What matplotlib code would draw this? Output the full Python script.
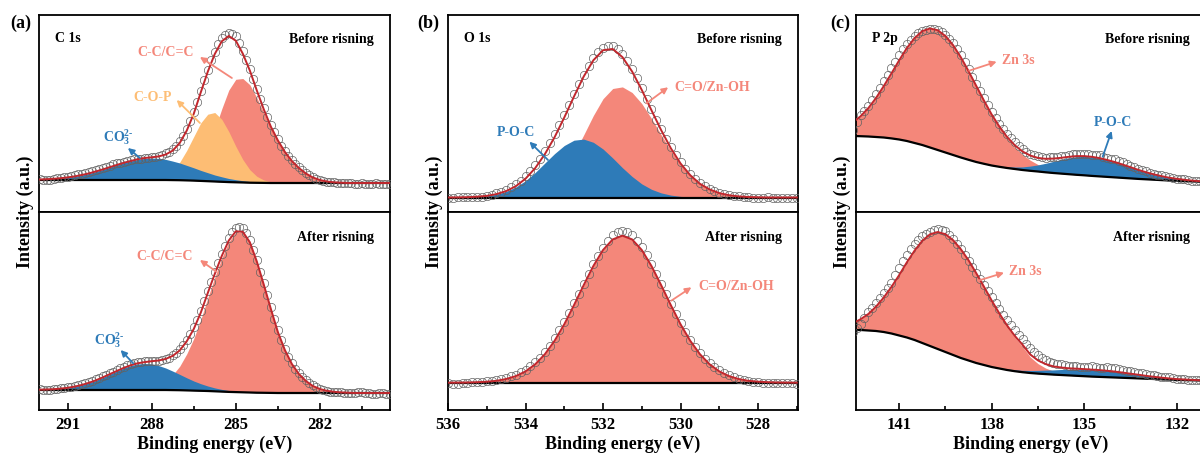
import numpy as np
import matplotlib

matplotlib.use("Agg")
import matplotlib.pyplot as plt

plt.rcParams["font.family"] = ["Liberation Serif", "DejaVu Serif"]
plt.rcParams["font.weight"] = "bold"
plt.rcParams["mathtext.fontset"] = "custom"
plt.rcParams["mathtext.rm"] = "Liberation Serif:bold"
plt.rcParams["mathtext.bf"] = "Liberation Serif:bold"
plt.rcParams["mathtext.default"] = "rm"

# ---- data (intensity in arbitrary units, energy grids in eV) ----
# fitted components sampled every 0.25 eV, measured points every 0.125 eV
E_A = np.arange(292.0, 279.49, -0.25)
E_B = np.arange(536.0, 526.99, -0.25)
E_C = np.arange(142.5, 130.99, -0.25)
E_A_RAW = np.arange(292.0, 279.49, -0.125)
E_B_RAW = np.arange(536.0, 526.99, -0.125)
E_C_RAW = np.arange(142.5, 130.99, -0.125)

# (a) C 1s, before rinsing
bg_a1 = [32, 32, 32, 32, 32, 32, 32, 32, 32, 32, 32, 32, 32, 32, 32, 32, 32, 32, 32,
         31.9, 31.8, 31.6, 31.4, 31.1, 30.8, 30.5, 30.2, 29.9, 29.7, 29.5, 29.3, 29.2, 29.1,
         29, 29, 29, 29, 29, 29, 29, 29, 29, 29, 29, 29, 29, 29, 29, 29, 29, 29]
co3_a1 = [0.5, 0.8, 1.2, 1.8, 2.6, 3.6, 5, 6.5, 8.5, 10.5, 12.8, 15, 17.2, 19, 20.6, 21.6, 22,
          21.6, 20.6, 19, 17.2, 15, 12.8, 10.5, 8.5, 6.5, 5, 3.6, 2.6, 1.8, 1.2, 0.8, 0.5, 0.3, 0.2,
          0, 0, 0, 0, 0, 0, 0, 0, 0, 0, 0, 0, 0, 0, 0, 0]
cop_a1 = [0, 0, 0, 0, 0, 0, 0, 0, 0, 0, 0, 0, 0, 0, 0.2, 0.4, 0.7, 1.9, 4.6, 9.7, 18, 30, 44,
          58, 67, 69, 62.5, 50.5, 36, 23, 13, 6.5, 2.9, 1.1, 0.4, 0.1,
          0, 0, 0, 0, 0, 0, 0, 0, 0, 0, 0, 0, 0, 0, 0]
cc_a1 = [0, 0, 0, 0, 0, 0, 0, 0, 0, 0, 0, 0, 0, 0, 0, 0, 0, 0.1, 0.3, 0.8, 2, 4.8, 10, 20, 34,
         52, 73, 92, 103, 104, 98, 85, 70, 55, 42, 31, 22, 15, 9.5, 5.5, 3, 1.5, 0.7, 0.3,
         0, 0, 0, 0, 0, 0, 0]
raw_a1 = [33, 32.5, 32, 32.5, 33, 34, 34.5, 35, 35.5, 36.5,
          37, 38, 38.5, 39, 40, 41, 42, 43, 44, 45.5,
          46.5, 48, 49, 49.5, 50.5, 51.5, 52.5, 53, 53.5, 53.5,
          54, 54.5, 55, 55.5, 56, 57, 59, 60.5, 63, 66.5,
          71, 76.5, 83, 91, 100, 110, 121, 132, 142, 152,
          160, 168, 174, 177.5, 179, 178.5, 176, 169.5, 161, 152,
          143, 133, 123, 113, 104, 95, 87, 80, 73, 66.5,
          61, 56, 52, 48, 45, 42, 39, 37, 35, 33.5,
          32, 31, 30, 30.5, 30, 29.5, 29, 29, 29.5, 29,
          28.5, 28.5, 29, 28.5, 28, 28.5, 29, 28.5, 28.5, 28, 28]

# (a) C 1s, after rinsing
bg_a2 = [20, 20, 20, 20, 20, 20, 20, 20, 20, 20, 20, 20, 20, 20, 20, 20, 20, 20, 20,
         19.9, 19.8, 19.6, 19.4, 19.2, 19, 18.7, 18.4, 18.1, 17.9, 17.7, 17.5, 17.3, 17.2, 17.1,
         17, 17, 17, 17, 17, 17, 17, 17, 17, 17, 17, 17, 17, 17, 17, 17, 17]
co3_a2 = [0.3, 0.5, 0.8, 1.4, 2.2, 3.4, 5, 7.1, 9.6, 12.6, 15.8, 19, 22, 24.4, 26, 26.5, 26,
          24.4, 22, 19, 15.8, 12.6, 9.6, 7.1, 5, 3.4, 2.2, 1.4, 0.8, 0.5, 0.3, 0.2,
          0, 0, 0, 0, 0, 0, 0, 0, 0, 0, 0, 0, 0, 0, 0, 0, 0, 0, 0]
cc_a2 = [0, 0, 0, 0, 0, 0, 0, 0, 0, 0, 0, 0, 0.1, 0.3, 0.7, 1.4, 2.8, 5.1, 9.1, 15.2, 24, 36.5,
         52, 71, 93, 114, 133.5, 150, 160, 160, 150, 131, 108, 84, 61, 43, 29, 19, 12, 7, 4,
         2.2, 1.2, 0.6, 0.3, 0, 0, 0, 0, 0, 0]
raw_a2 = [21, 20.5, 20, 20.5, 21, 21.5, 22, 22.5, 23, 23.5,
          24.5, 25.5, 26.5, 27.5, 28.5, 29.5, 31, 32.5, 34, 35.5,
          37, 38.5, 40, 42, 43.5, 45, 46, 47, 48, 48.5,
          49, 49, 49, 49, 49.5, 50, 51, 52.5, 55, 57.5,
          61, 65, 70, 76, 83, 90.5, 99, 109, 119, 128.5,
          138, 147, 156, 164.5, 172, 178, 182, 183, 182, 177,
          170, 160.5, 150, 138.5, 127, 115, 103, 91, 80, 70,
          61, 53.5, 47, 41.5, 37, 33, 30, 27.5, 25, 23,
          21.5, 20.5, 19.5, 18.5, 18, 18, 18, 17.5, 17, 17,
          17.5, 18, 18, 17.5, 17, 16.5, 16.5, 17, 17, 16.5, 16.5]

# (b) O 1s, before rinsing
bg_b1 = 14.5
poc_b1 = [0, 0.1, 0.3, 0.8, 1.6, 3.3, 6.1, 10.5, 16.8, 25, 34.5, 43.9, 52, 57.3, 58.4, 55.2,
          48.5, 39.5, 29.8, 21, 13.6, 8.2, 4.6, 2.4, 1.1, 0.5, 0.2, 0.1, 0, 0, 0, 0, 0, 0, 0, 0, 0]
co_b1 = [0, 0, 0, 0, 0, 0.1, 0.3, 0.8, 2, 4.4, 8.9, 16.4, 28, 43.6, 62.5, 82, 98.8, 109,
         110.6, 105, 93.9, 79, 62.7, 46.8, 32.9, 21.8, 13.5, 8, 4.4, 2.3, 1.1, 0.5, 0.2, 0, 0, 0, 0]
raw_b1 = [14, 14.5, 15, 15, 15.5, 15, 15, 15.5, 16.5, 17.5,
          19, 20.5, 22.5, 25, 28, 31.5, 36, 41, 47, 53.5,
          61, 69, 78, 87.5, 97, 107.5, 118, 128, 137, 146,
          154, 160, 164, 166, 166, 163, 158, 151, 143, 134,
          124, 113.5, 103, 92.5, 83, 73.5, 65, 57, 50, 43.5,
          38, 33.5, 29.5, 26, 23.5, 21, 19.5, 18, 17, 16.5,
          16, 15.5, 15, 14.5, 14.5, 14.5, 15, 14.5, 14, 14,
          14.5, 14.5, 14]

# (b) O 1s, after rinsing
bg_b2 = 27.3
co_b2 = [0, 0.1, 0.2, 0.5, 1, 1.9, 3.7, 6.6, 11.3, 18.4, 28.5, 41.9, 58.4, 77.5, 97.5, 116.7,
         132.7, 143.3, 147, 143.3, 132.7, 116.7, 97.5, 77.5, 58.4, 41.9, 28.5, 18.4, 11.3, 6.6,
         3.7, 1.9, 1, 0.5, 0.2, 0.1, 0]
raw_b2 = [27, 26.5, 26.5, 27, 27.5, 28, 28.5, 28.5, 29, 29.5,
          30.5, 31.5, 32.5, 34, 35.5, 38, 40.5, 44, 48, 52.5,
          58, 64.5, 72, 80, 88, 97.5, 107, 116.5, 126, 136,
          146, 154.5, 162, 169, 175, 178, 179, 178, 175, 169.5,
          163, 155, 146, 136, 126, 116, 106, 96.5, 87, 78,
          70, 63, 57, 51.5, 47, 43, 40, 37.5, 35, 33,
          31.5, 30.5, 29.5, 28.5, 28, 27.5, 27.5, 27.5, 27, 27,
          27.5, 27, 26.5]

# (c) P 2p, before rinsing
bg_c1 = [76, 75.8, 75.5, 75, 74.5, 73.6, 72.5, 71, 69, 67, 64.5, 62, 59.5, 57, 54.5, 52.2, 50,
         48.2, 46.5, 45.2, 44, 43, 42, 41.2, 40.5, 39.7, 39, 38.4, 37.8, 37.2, 36.7, 36.1, 35.6,
         35.1, 34.6, 34.1, 33.6, 33.1, 32.7, 32.3, 31.9, 31.5, 31.2, 30.9, 30.6, 30.3, 30]
zn_c1 = [13.5, 20, 28.4, 39, 51.4, 65, 79.2, 93, 104.9, 113.9, 119, 119.8, 116.5, 109.8, 100.2,
         88.7, 76, 63, 50.6, 39.5, 29.8, 21.7, 15.4, 10.6, 7, 4.5, 2.8, 1.7, 1, 0.6, 0.3, 0.2,
         0.1, 0, 0, 0, 0, 0, 0, 0, 0, 0, 0, 0, 0, 0, 0]
poc_c1 = [0, 0, 0, 0, 0, 0, 0, 0, 0, 0, 0, 0, 0, 0, 0, 0, 0.1, 0.2, 0.4, 0.7, 1.2, 2, 3.1, 4.7,
          6.6, 9, 11.6, 14.1, 16.4, 18.1, 18.9, 18.9, 18.2, 16.9, 15.3, 13.3, 11.2, 9.1, 7.1,
          5.4, 4, 2.8, 2, 1.3, 0.8, 0.5, 0.3]
raw_c1 = [82, 90, 97, 101, 106, 112, 118, 124.5, 131, 137.5,
          144, 150.5, 157, 163, 168, 172.5, 176, 179, 181, 182,
          183, 183, 182, 180, 177, 173.5, 169, 163, 157, 150,
          143, 135.5, 128, 121, 114, 107, 100, 94, 88, 83,
          78, 74, 70, 66, 63, 60, 58, 57, 56, 55,
          54.5, 55, 55, 55.5, 56, 56.5, 57, 58, 58, 58.5,
          58.5, 58, 57.5, 57.5, 57, 55.5, 54, 53.5, 53, 51.5,
          50, 48, 46, 45, 43.5, 42, 41, 39.5, 38.5, 37.5,
          37, 36, 35, 34, 33.5, 33, 33, 32, 31.5, 31,
          31, 30.5, 30]

# (c) P 2p, after rinsing
bg_c2 = [80, 80, 79.5, 79, 78, 76.5, 74.5, 72.5, 70, 67, 64, 61, 58, 55, 52, 49.5, 47, 45, 43,
         41.5, 40, 38.8, 37.8, 37, 36.4, 35.9, 35.4, 35, 34.6, 34.2, 33.8, 33.4, 33.1, 32.8,
         32.5, 32.2, 31.9, 31.6, 31.3, 31, 30.7, 30.4, 30.1, 29.9, 29.7, 29.5, 29.3]
zn_c2 = [6.7, 10.8, 16.5, 24.4, 34.5, 46.6, 60.4, 75.2, 89.4, 102.2, 111.7, 117, 117.8, 114.8,
         108.8, 100.2, 89.7, 78.1, 66.1, 54.3, 43.5, 33.9, 25.6, 16, 10, 6, 3.5, 2, 1, 0.5, 0.2,
         0, 0, 0, 0, 0, 0, 0, 0, 0, 0, 0, 0, 0, 0, 0, 0]
poc_c2 = [0, 0, 0, 0, 0, 0, 0, 0, 0, 0, 0, 0, 0, 0, 0, 0, 0.1, 0.2, 0.4, 0.7, 1, 1.4, 1.9, 2.5,
          3.2, 4, 4.7, 5.5, 6.1, 6.6, 6.9, 7, 6.8, 6.4, 5.9, 5.2, 4.4, 3.7, 2.9, 2.2, 1.7, 1.2,
          0.8, 0.6, 0.4, 0.2, 0.1]
raw_c2 = [78, 82, 86, 92, 98, 102.5, 107, 112, 117, 122,
          127, 135, 142, 149, 155, 161, 166, 170.5, 174, 176.5,
          178, 180, 181, 180.5, 179, 175.5, 171, 166.5, 161, 155,
          149, 143, 137, 131, 125, 119, 113, 107, 101, 95.5,
          90, 85, 80, 75.5, 71, 66.5, 62, 58.5, 55, 52.5,
          50, 48.5, 47, 46, 46, 45, 44, 44.5, 44.5, 43.5,
          43, 43.5, 44, 43, 42, 42.5, 43, 42.5, 42, 41,
          40, 39.5, 39, 38, 37, 37, 36.5, 35.5, 35, 34,
          33, 33, 33, 32, 31.5, 31.5, 31, 30.5, 30.5, 30,
          30, 29.5, 29.5]

# ---- style ----
SALMON = "#F4877A"
YELLOW = "#FDBD74"
BLUE = "#2E7BB8"
RED = "#C1272D"
CIRCLE = "#626262"

FIG_W, FIG_H = 1200, 454
TOP_Y, MID_Y, BOT_Y = 15, 212, 410


def draw_spectrum(ax, energy, bg, parts, raw_energy, raw):
    bg = np.broadcast_to(np.asarray(bg, dtype=float), energy.shape)
    env = bg.copy()
    for vals, _ in parts:
        env = env + np.asarray(vals, dtype=float)
    # components drawn from the background, later ones on top
    for vals, color in parts:
        ax.fill_between(energy, bg, bg + np.asarray(vals, dtype=float), color=color,
                        linewidth=0, zorder=1)
    ax.plot(energy, bg, color="black", lw=1.6, zorder=3)
    ax.plot(raw_energy, raw, "o", ms=6, mfc="none", mec=CIRCLE, mew=0.5, zorder=4)
    ax.plot(energy, env, color=RED, lw=1.4, zorder=5)


def label(ax, text, x, y, color, ha="center", size=10):
    ax.text(x, y, text, color=color, fontsize=size, fontweight="bold", ha=ha, va="center",
            zorder=6)


def arrow(ax, tail, head, color):
    ax.annotate("", xy=head, xytext=tail,
                arrowprops=dict(arrowstyle="-|>", color=color, lw=1.3, mutation_scale=9,
                                shrinkA=0, shrinkB=0), zorder=6)


def make_pair(fig, left_px, width_px, xlim, major, minor):
    l = left_px / FIG_W
    w = width_px / FIG_W
    ax_top = fig.add_axes([l, 1 - MID_Y / FIG_H, w, (MID_Y - TOP_Y) / FIG_H])
    ax_bot = fig.add_axes([l, 1 - BOT_Y / FIG_H, w, (BOT_Y - MID_Y) / FIG_H])
    for ax, h in ((ax_top, MID_Y - TOP_Y), (ax_bot, BOT_Y - MID_Y)):
        ax.set_xlim(*xlim)
        ax.set_ylim(0, h)
        ax.set_yticks([])
        for sp in ax.spines.values():
            sp.set_linewidth(1.3)
    ax_top.set_xticks([])
    ax_bot.set_xticks(major)
    ax_bot.set_xticks(minor, minor=True)
    ax_bot.set_xticklabels([f"{t:g}" for t in major])
    ax_bot.tick_params(axis="x", which="major", direction="in", length=5, width=1.2,
                       labelsize=12, pad=5)
    ax_bot.tick_params(axis="x", which="minor", direction="in", length=3, width=1.2)
    ax_bot.set_xlabel("Binding energy (eV)", fontsize=13, fontweight="bold", labelpad=2)
    fig.text((left_px - 14) / FIG_W, 1 - MID_Y / FIG_H, "Intensity (a.u.)", rotation=90,
             fontsize=13, fontweight="bold", ha="center", va="center")
    return ax_top, ax_bot


def corner_texts(ax_top, ax_bot, element):
    ax_top.text(0.045, 0.865, element, transform=ax_top.transAxes, fontsize=10,
                fontweight="bold", ha="left", va="baseline")
    ax_top.text(0.954, 0.86, "Before risning", transform=ax_top.transAxes, fontsize=10,
                fontweight="bold", ha="right", va="baseline")
    ax_bot.text(0.954, 0.855, "After risning", transform=ax_bot.transAxes, fontsize=10,
                fontweight="bold", ha="right", va="baseline")


fig = plt.figure(figsize=(FIG_W / 100, FIG_H / 100), dpi=100)

CO3 = r"CO$_3^{2\text{-}}$"

# ---- (a) C 1s ----
a1, a2 = make_pair(fig, 39, 351, (292.02, 279.5), [291, 288, 285, 282],
                   [289.5, 286.5, 283.5, 280.5])
draw_spectrum(a1, E_A, bg_a1, [(cc_a1, SALMON), (cop_a1, YELLOW), (co3_a1, BLUE)],
              E_A_RAW, raw_a1)
draw_spectrum(a2, E_A, bg_a2, [(cc_a2, SALMON), (co3_a2, BLUE)], E_A_RAW, raw_a2)
corner_texts(a1, a2, "C 1s")
label(a1, "C-C/C=C", 287.49, 160, SALMON)
arrow(a1, (285.14, 134), (286.28, 155), SALMON)
label(a1, "C-O-P", 287.98, 114.5, YELLOW)
arrow(a1, (286.28, 89), (287.11, 112), YELLOW)
label(a1, CO3, 289.19, 74.5, BLUE)
arrow(a1, (288.42, 54), (288.85, 64), BLUE)
label(a2, "C-C/C=C", 287.53, 153, SALMON)
arrow(a2, (285.69, 138.3), (286.28, 150), SALMON)
label(a2, CO3, 289.51, 70, BLUE)
arrow(a2, (288.66, 46.7), (289.11, 60), BLUE)

# ---- (b) O 1s ----
b1, b2 = make_pair(fig, 448, 350, (536.0, 526.97), [536, 534, 532, 530, 528],
                   [535, 533, 531, 529, 527])
draw_spectrum(b1, E_B, bg_b1, [(co_b1, SALMON), (poc_b1, BLUE)], E_B_RAW, raw_b1)
draw_spectrum(b2, E_B, bg_b2, [(co_b2, SALMON)], E_B_RAW, raw_b2)
corner_texts(b1, b2, "O 1s")
label(b1, "P-O-C", 534.25, 80, BLUE)
arrow(b1, (533.42, 52), (533.9, 70.3), BLUE)
label(b1, "C=O/Zn-OH", 530.15, 125, SALMON, ha="left")
arrow(b1, (530.88, 108.7), (530.32, 124.7), SALMON)
label(b2, "C=O/Zn-OH", 529.55, 123, SALMON, ha="left")
arrow(b2, (530.24, 109.3), (529.72, 122.7), SALMON)

# ---- (c) P 2p ----
c1, c2 = make_pair(fig, 856, 350, (142.4, 131.05), [141, 138, 135, 132], [139.5, 136.5, 133.5])
draw_spectrum(c1, E_C, bg_c1, [(zn_c1, SALMON), (poc_c1, BLUE)], E_C_RAW, raw_c1)
draw_spectrum(c2, E_C, bg_c2, [(zn_c2, SALMON), (poc_c2, BLUE)], E_C_RAW, raw_c2)
corner_texts(c1, c2, "P 2p")
label(c1, "Zn 3s", 137.68, 152, SALMON, ha="left")
arrow(c1, (138.73, 141.3), (137.84, 150.3), SALMON)
label(c1, "P-O-C", 134.08, 90, BLUE)
arrow(c1, (134.4, 55.3), (134.11, 81), BLUE)
label(c2, "Zn 3s", 137.43, 138.3, SALMON, ha="left")
arrow(c2, (138.44, 129.3), (137.6, 137.3), SALMON)

for txt, xpx in (("(a)", 10), ("(b)", 417), ("(c)", 830)):
    fig.text(xpx / FIG_W, 1 - 15 / FIG_H, txt, fontsize=13, fontweight="bold",
             ha="left", va="top")

fig.savefig("out.png", dpi=100)
